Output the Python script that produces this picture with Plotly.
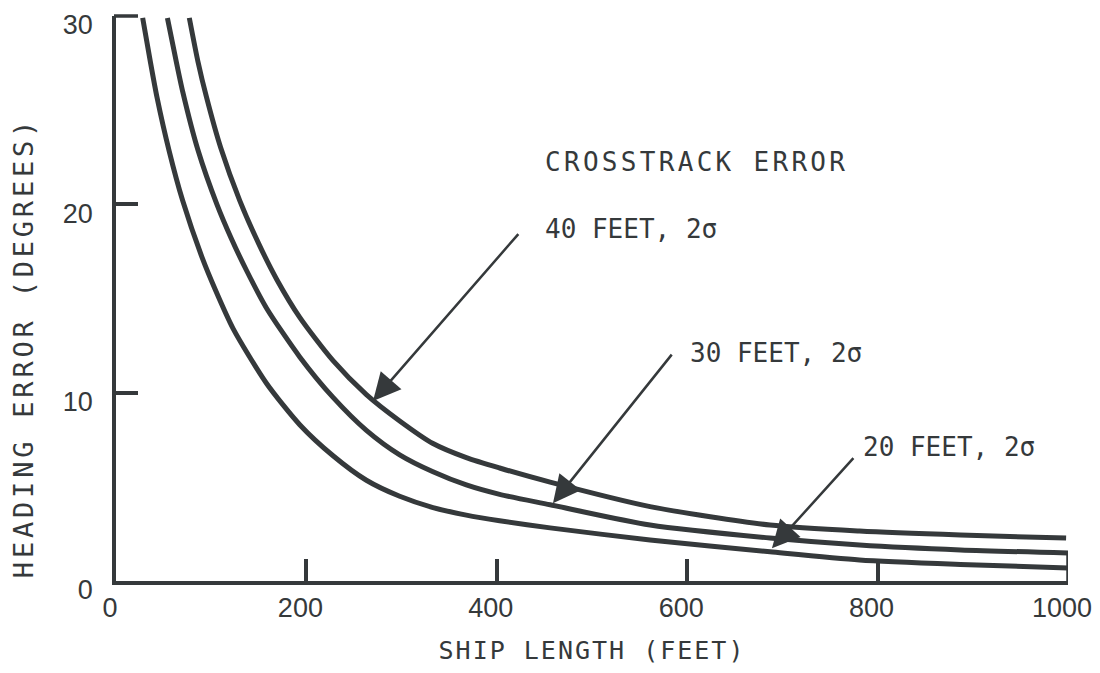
import plotly.graph_objects as go

# ---- data ----
ship_len_20 = [28, 36, 43, 56, 70, 91, 104, 123, 158, 193, 228, 263, 298, 333, 368, 403, 456, 561, 687, 781, 887, 1000]
head_err_20 = [29.9, 27.6, 25.7, 22.8, 20.2, 17.1, 15.5, 13.4, 10.5, 8.3, 6.65, 5.35, 4.5, 3.9, 3.5, 3.2, 2.82, 2.18, 1.55, 1.12, 0.88, 0.69]

ship_len_30 = [54, 62, 70, 86, 106, 121, 137, 158, 193, 228, 263, 298, 333, 368, 403, 456, 561, 687, 781, 887, 1000]
head_err_30 = [29.9, 27.9, 26.0, 22.9, 20.0, 18.2, 16.5, 14.5, 11.9, 9.75, 8.0, 6.7, 5.8, 5.1, 4.6, 4.05, 2.97, 2.28, 1.91, 1.65, 1.49]

ship_len_40 = [77, 86, 95, 110, 130, 150, 169, 193, 228, 263, 298, 333, 368, 403, 456, 561, 687, 781, 887, 998]
head_err_40 = [29.9, 27.6, 25.7, 23.0, 20.2, 17.9, 16.0, 14.0, 11.7, 9.9, 8.5, 7.3, 6.55, 6.0, 5.25, 3.95, 2.97, 2.65, 2.44, 2.28]

x_ticks = [0, 200, 400, 600, 800, 1000]
x_tick_labels = ["0", "200", "400", "600", "800", "1000"]
y_ticks = [0, 10, 20, 30]
y_tick_labels = ["0", "10", "20", "30"]

series_labels = ["20 FEET, 2σ", "30 FEET, 2σ", "40 FEET, 2σ"]
# label anchor (x, y) and arrow tail/tip in data units
label_pos = [(783, 7.1), (601, 12.1), (448, 18.7)]
arrow_tail = [(776, 6.6), (585, 12.1), (424, 18.5)]
arrow_tip = [(689, 1.74), (459, 4.13), (270, 9.56)]
heading_text = "CROSSTRACK ERROR"
heading_pos = (448, 22.25)
x_title = "SHIP LENGTH (FEET)"
y_title = "HEADING ERROR (DEGREES)"
y_title_pos = (-0.097, 12.4)   # (paper x, data y)

INK = "#35393b"
MONO = "DejaVu Sans Mono, Liberation Mono, monospace"
SANS = "Liberation Sans, Arial, sans-serif"

fig = go.Figure()
for xs, ys in [(ship_len_20, head_err_20), (ship_len_30, head_err_30), (ship_len_40, head_err_40)]:
    fig.add_trace(go.Scatter(x=xs, y=ys, mode="lines",
                             line=dict(color=INK, width=5, shape="spline", smoothing=0.7),
                             showlegend=False, hoverinfo="skip"))

# closing tick at 1000 up to the 30-ft curve
fig.add_shape(type="line", x0=1000, x1=1000, y0=0, y1=head_err_30[-1],
              line=dict(color=INK, width=3.5), xref="x", yref="y")
# inside tick at the top of the y axis (30), not clipped to the plot area
fig.add_shape(type="line", xref="paper", yref="paper", xsizemode="pixel", xanchor=0,
              x0=-2, x1=22, y0=1, y1=1, line=dict(color=INK, width=3.5))

annotations = []
annotations.append(dict(x=heading_pos[0], y=heading_pos[1], xref="x", yref="y",
                        text='<span style="letter-spacing:3.3px">' + heading_text + '</span>',
                        showarrow=False, xanchor="left", yanchor="middle",
                        font=dict(family=MONO, size=26, color=INK)))
for lab, (lx, ly), (tx, ty), (hx, hy) in zip(series_labels, label_pos, arrow_tail, arrow_tip):
    annotations.append(dict(x=lx, y=ly, xref="x", yref="y", text=lab, showarrow=False,
                            xanchor="left", yanchor="middle",
                            font=dict(family=MONO, size=26, color=INK)))
    annotations.append(dict(x=hx, y=hy, ax=tx, ay=ty, xref="x", yref="y", axref="x", ayref="y",
                            text="", showarrow=True, arrowhead=2, arrowsize=2.2, arrowwidth=2.5,
                            arrowcolor=INK, standoff=0, startstandoff=0))
# y axis title placed as in the reference (below the plot centre)
annotations.append(dict(x=y_title_pos[0], y=y_title_pos[1], xref="paper", yref="y",
                        text='<span style="letter-spacing:3.8px">' + y_title + '</span>',
                        textangle=-90, showarrow=False, xanchor="center", yanchor="middle",
                        font=dict(family=MONO, size=27, color=INK)))

fig.update_layout(
    width=1084, height=657,
    paper_bgcolor="white", plot_bgcolor="white",
    margin=dict(l=108, r=24, t=8, b=84, autoexpand=False),
    annotations=annotations,
    xaxis=dict(range=[0, 1000], tickvals=x_ticks, ticktext=x_tick_labels, automargin=False,
               showgrid=False, zeroline=False, showline=True, linecolor=INK, linewidth=3.5,
               ticks="inside", ticklen=22, tickwidth=3.5, tickcolor=INK,
               ticklabelshift=-6, ticklabeloverflow="allow",
               tickfont=dict(family=SANS, size=27, color=INK),
               title=dict(text='<span style="letter-spacing:2px">' + x_title + '</span>',
                          font=dict(family=MONO, size=25, color=INK), standoff=23)),
    yaxis=dict(range=[0, 30], tickvals=y_ticks, ticktext=y_tick_labels, automargin=False,
               showgrid=False, zeroline=False, showline=True, linecolor=INK, linewidth=3.5,
               ticks="inside", ticklen=22, tickwidth=3.5, tickcolor=INK,
               ticklabelstandoff=14, ticklabelshift=9, ticklabeloverflow="allow",
               tickfont=dict(family=SANS, size=27, color=INK)),
)

fig.write_html("out.html")
